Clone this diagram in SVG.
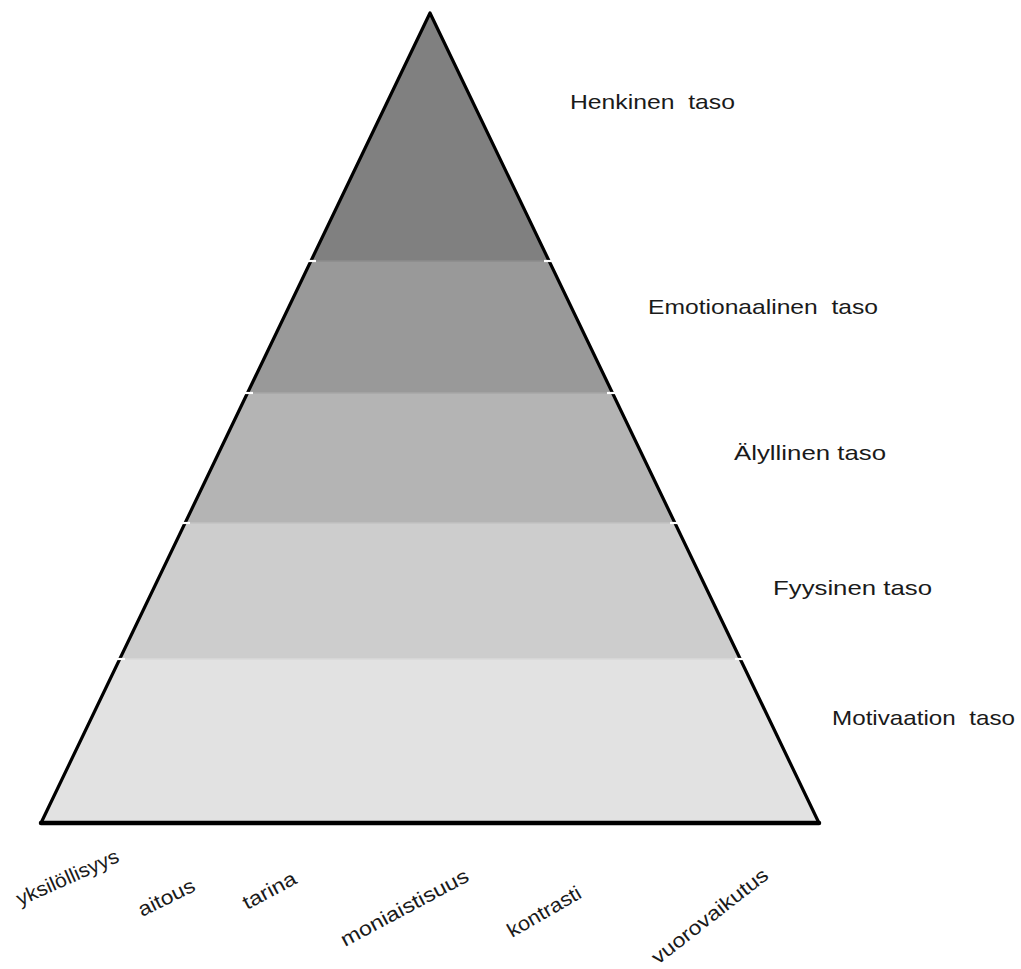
<svg xmlns="http://www.w3.org/2000/svg" width="1021" height="969" viewBox="0 0 1021 969">
<style>
.lbl{font-family:"Liberation Sans",Arial,sans-serif;font-size:21px;fill:#1a1a1a;white-space:pre}
.rot{font-family:"Liberation Sans",Arial,sans-serif;font-size:20px;fill:#1a1a1a}
.edge{stroke:#000;stroke-width:3.2;fill:none;stroke-linecap:round;stroke-linejoin:round}
.gap{stroke:#fff;stroke-width:2.2;fill:none}
.seam{stroke-width:1.5;fill:none}
</style>
<rect width="1021" height="969" fill="#fff"/>
<g id="level-henkinen">
<polygon points="430,13 549.1,261 310.9,261" fill="#808080"/>
<text class="lbl" x="570" y="109" textLength="165" lengthAdjust="spacingAndGlyphs">Henkinen  taso</text>
</g>
<g id="level-emotionaalinen">
<polygon points="310.9,261 549.1,261 612.5,393 247.5,393" fill="#999999"/>
<text class="lbl" x="648" y="314" textLength="230" lengthAdjust="spacingAndGlyphs">Emotionaalinen  taso</text>
</g>
<g id="level-alyllinen">
<polygon points="247.5,393 612.5,393 674.9,523 185.1,523" fill="#b4b4b4"/>
<text class="lbl" x="734" y="460" textLength="152" lengthAdjust="spacingAndGlyphs">Älyllinen taso</text>
</g>
<g id="level-fyysinen">
<polygon points="185.1,523 674.9,523 740.2,659 119.8,659" fill="#cdcdcd"/>
<text class="lbl" x="773" y="595" textLength="159" lengthAdjust="spacingAndGlyphs">Fyysinen taso</text>
</g>
<g id="level-motivaatio">
<polygon points="119.8,659 740.2,659 819,823 41,823" fill="#e2e2e2"/>
<text class="lbl" x="832" y="725" textLength="183" lengthAdjust="spacingAndGlyphs">Motivaation  taso</text>
</g>
<g id="outline">
<line class="seam" stroke="#8c8c8c" x1="312" y1="261" x2="548" y2="261"/>
<line class="seam" stroke="#a7a7a7" x1="248" y1="393" x2="612" y2="393"/>
<line class="seam" stroke="#c2c2c2" x1="186" y1="523" x2="674" y2="523"/>
<line class="seam" stroke="#d9d9d9" x1="121" y1="659" x2="739" y2="659"/>
<polyline class="edge" points="41,823 430,13 819,823"/>
<line x1="41" y1="823" x2="819" y2="823" stroke="#000" stroke-width="4.5" stroke-linecap="round"/>
<line class="gap" x1="305" y1="261" x2="316" y2="261"/><line class="gap" x1="544" y1="261" x2="555" y2="261"/>
<line class="gap" x1="242" y1="393" x2="253" y2="393"/><line class="gap" x1="607" y1="393" x2="618" y2="393"/>
<line class="gap" x1="179" y1="523" x2="190" y2="523"/><line class="gap" x1="670" y1="523" x2="681" y2="523"/>
<line class="gap" x1="114" y1="659" x2="125" y2="659"/><line class="gap" x1="735" y1="659" x2="746" y2="659"/>
</g>
<g id="principles">
<text class="rot" transform="translate(20,906) rotate(-24)" textLength="110" lengthAdjust="spacingAndGlyphs">yksilöllisyys</text>
<text class="rot" transform="translate(142,917) rotate(-26)" textLength="61" lengthAdjust="spacingAndGlyphs">aitous</text>
<text class="rot" transform="translate(247,910) rotate(-28)" textLength="58" lengthAdjust="spacingAndGlyphs">tarina</text>
<text class="rot" transform="translate(345,947) rotate(-28)" textLength="142" lengthAdjust="spacingAndGlyphs">moniaistisuus</text>
<text class="rot" transform="translate(512,938) rotate(-30)" textLength="82" lengthAdjust="spacingAndGlyphs">kontrasti</text>
<text class="rot" transform="translate(658,965) rotate(-38)" textLength="142" lengthAdjust="spacingAndGlyphs">vuorovaikutus</text>
</g>
</svg>
